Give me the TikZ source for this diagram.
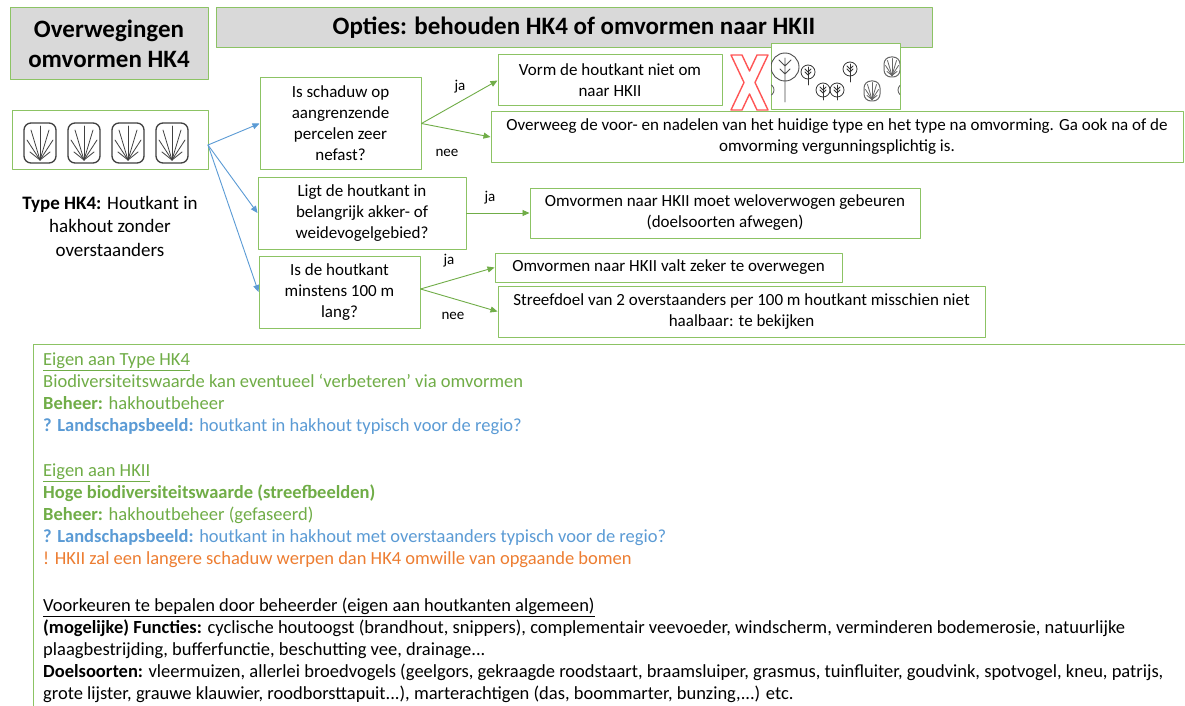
\documentclass[tikz,border=0pt]{standalone}
\usepackage{fontspec}
\setmainfont{Carlito}
\usetikzlibrary{arrows.meta}

\definecolor{vakgroen}{RGB}{140,195,100}
\definecolor{pijlgroen}{RGB}{112,173,71}
\definecolor{pijlblauw}{RGB}{91,155,213}
\definecolor{titelgrijs}{RGB}{217,217,217}
\definecolor{oranje}{RGB}{237,125,49}
\definecolor{kruisrood}{RGB}{255,85,85}

\newcommand{\titelfont}{\fontsize{25}{30}\selectfont\bfseries}
\newcommand{\vakfont}{\fontsize{17}{21}\selectfont}
\newcommand{\typefont}{\fontsize{19}{23.5}\selectfont}
\newcommand{\tekstfont}{\fontsize{18.5}{22}\selectfont}
\newcommand{\labelfont}{\fontsize{15}{18}\selectfont}

\tikzset{
  titel/.style={draw=vakgroen, fill=titelgrijs, line width=1pt, align=center, inner sep=0pt, font=\titelfont},
  vak/.style={draw=vakgroen, fill=white, line width=1pt, align=center, inner sep=0pt, font=\vakfont},
  blauwpijl/.style={draw=pijlblauw, line width=0.9pt, -{Triangle[length=7pt,width=6pt]}},
  groenpijl/.style={draw=pijlgroen, line width=0.9pt, -{Triangle[length=7pt,width=6pt]}},
  antwoord/.style={font=\labelfont, inner sep=0pt},
  hakhout/.pic={
    \draw[rounded corners=7pt] (-16,-20) rectangle (16,20);
    \foreach \ex/\ey in {0/-17, -9/-13, 9/-13, -13/-3, 13/-3, -10/9, 10/9}
      \draw[line width=0.8pt] (0,17) -- (\ex,\ey);
  },
  boompje/.pic={
    \draw (0,0) circle (7);
    \draw (0,-5) -- (0,10);
    \draw (0,0) -- (-3,-3) (0,0) -- (3,-3) (0,3) -- (-3,0) (0,3) -- (3,0);
  }
}

\begin{document}
\begin{tikzpicture}[x=1pt, y=-1pt, line cap=round, line join=round]
  \clip (0,0) rectangle (1185,706);
  \fill[white] (0,0) rectangle (1185,706);

  % titels
  \node[titel, minimum width=198, minimum height=72] (titel) at (109,44) {Overwegingen\\omvormen HK4};
  \node[titel, minimum width=716, minimum height=40] (opties) at (574,28) {\raisebox{-2pt}{Opties: behouden HK4 of omvormen naar HKII}};

  % type HK4
  \node[vak, minimum width=196, minimum height=58] (hk4) at (110,140) {};
  \foreach \x in {40,84,128,172}
    \pic[draw=black!75, line width=1.3pt] at (\x,143) {hakhout};
  \node[font=\typefont, align=center, inner sep=0pt] (typetekst) at (110,226)
    {\textbf{Type HK4:} Houtkant in\\hakhout zonder\\overstaanders};

  % vragen
  \node[vak, minimum width=161, minimum height=91] (schaduw) at (340.5,123.5)
    {Is schaduw op\\aangrenzende\\percelen zeer\\nefast?};
  \node[vak, minimum width=208, minimum height=72] (vogels) at (362,213)
    {Ligt de houtkant in\\belangrijk akker- of\\weidevogelgebied?};
  \node[vak, minimum width=161, minimum height=72] (lengte) at (339.5,292)
    {Is de houtkant\\minstens 100 m\\lang?};

  % antwoorden
  \node[vak, minimum width=224, minimum height=51] (nietom) at (610,80.5)
    {Vorm de houtkant niet om\\naar HKII};
  \node[vak, minimum width=692, minimum height=50] (overweeg) at (837,137)
    {Overweeg de voor- en nadelen van het huidige type en het type na omvorming. Ga ook na of de\\omvorming vergunningsplichtig is.};
  \node[vak, minimum width=390, minimum height=50] (weloverwogen) at (725,213)
    {Omvormen naar HKII moet weloverwogen gebeuren\\(doelsoorten afwegen)};
  \node[vak, minimum width=347, minimum height=29] (zeker) at (668.5,267.5)
    {Omvormen naar HKII valt zeker te overwegen};
  \node[vak, minimum width=487, minimum height=51] (streefdoel) at (741.5,311.5)
    {Streefdoel van 2 overstaanders per 100 m houtkant misschien niet\\haalbaar: te bekijken};

  % rood kruis
  \draw[kruisrood, line width=1.4pt, fill=white]
    (731,55) -- (742,55) -- (749.5,71) -- (757,55) -- (768,55) -- (755,82.5)
    -- (768,110) -- (757,110) -- (749.5,94) -- (742,110) -- (731,110) -- (744,82.5) -- cycle;

  % bomen
  \node[vak, minimum width=129, minimum height=66] (bomen) at (835.5,77) {};
  \begin{scope}
    \clip (771,44) rectangle (900,110);
    \draw[black!70, line width=0.9pt] (785,67) circle (14);
    \draw[black!70, line width=0.9pt] (785,58) -- (785,102)
      (785,66) -- (779,60) (785,66) -- (791,60) (785,74) -- (780,69) (785,74) -- (790,69);
    \foreach \bx/\by in {808/72, 823/90, 837/90, 850/69}
      \pic[draw=black!80, line width=0.8pt] at (\bx,\by) {boompje};
    \draw[black!80, line width=0.8pt] (808,82) -- (808,85) (850,79) -- (850,82);
    \pic[draw=black!60, line width=1pt, scale=0.5] at (872,91) {hakhout};
    \pic[draw=black!60, line width=1pt, scale=0.5] at (892,67) {hakhout};
    \draw[black!60, line width=0.9pt] (768,90) circle (6) (904,90) circle (6);
  \end{scope}

  % pijlen
  \coordinate (start) at (208,145);
  \foreach \vraag in {schaduw, vogels, lengte}
    \draw[blauwpijl] (start) -- (\vraag.west);
  \draw[groenpijl] (schaduw.east) -- (nietom.west);
  \draw[groenpijl] (schaduw.east) -- (overweeg.west);
  \draw[groenpijl] (vogels.east) -- (weloverwogen.west);
  \draw[groenpijl] ([yshift=3]lengte.east) -- (zeker.west);
  \draw[groenpijl] ([yshift=3]lengte.east) -- (streefdoel.west);
  \node[antwoord] (ja1) at (460,87) {ja};
  \node[antwoord] (nee1) at (447,153) {nee};
  \node[antwoord] (ja2) at (490,198) {ja};
  \node[antwoord] (ja3) at (449,261) {ja};
  \node[antwoord] (nee3) at (453,316) {nee};

  % onderste paneel
  \draw[vakgroen, line width=1pt] (33,344) rectangle (1200,720);
  \node[anchor=north west, align=left, inner sep=0pt, font=\tekstfont, text=pijlgroen] (eigenhk4) at (43,353)
    {\underline{Eigen aan Type HK4}\\
     Biodiversiteitswaarde kan eventueel ‘verbeteren’ via omvormen\\
     \textbf{Beheer:} hakhoutbeheer\\
     \color{pijlblauw}\textbf{? Landschapsbeeld:} houtkant in hakhout typisch voor de regio?};
  \node[anchor=north west, align=left, inner sep=0pt, font=\tekstfont, text=pijlgroen] (eigenhkii) at (43,464)
    {\underline{Eigen aan HKII}\\
     \textbf{Hoge biodiversiteitswaarde (streefbeelden)}\\
     \textbf{Beheer:} hakhoutbeheer (gefaseerd)\\
     {\color{pijlblauw}\textbf{? Landschapsbeeld:} houtkant in hakhout met overstaanders typisch voor de regio?}\\
     {\color{oranje}! HKII zal een langere schaduw werpen dan HK4 omwille van opgaande bomen}};
  \node[anchor=north west, align=left, inner sep=0pt, font=\tekstfont] (voorkeuren) at (43,598)
    {\underline{Voorkeuren te bepalen door beheerder (eigen aan houtkanten algemeen)}\\
     \textbf{(mogelijke) Functies:} cyclische houtoogst (brandhout, snippers), complementair veevoeder, windscherm, verminderen bodemerosie, natuurlijke\\
     plaagbestrijding, bufferfunctie, beschutting vee, drainage...\\
     \textbf{Doelsoorten:} vleermuizen, allerlei broedvogels (geelgors, gekraagde roodstaart, braamsluiper, grasmus, tuinfluiter, goudvink, spotvogel, kneu, patrijs,\\
     grote lijster, grauwe klauwier, roodborsttapuit...), marterachtigen (das, boommarter, bunzing,...) etc.};
\end{tikzpicture}
\end{document}
